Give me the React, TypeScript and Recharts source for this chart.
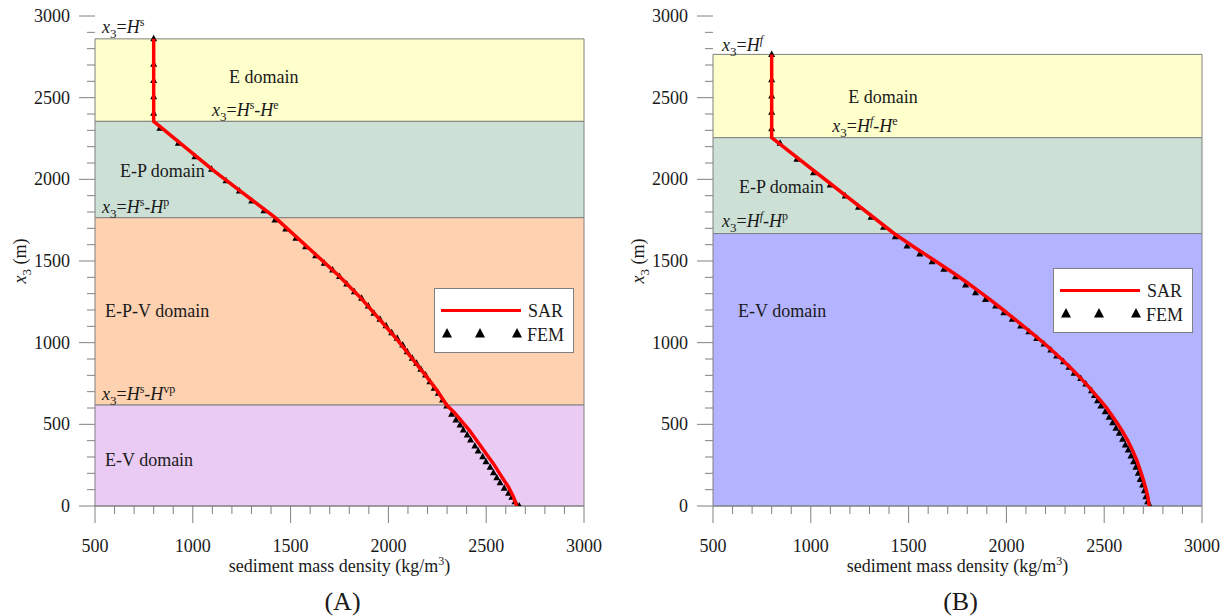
import React from 'react';
import { ComposedChart, Scatter, XAxis, YAxis, ReferenceArea, ReferenceDot, Legend } from 'recharts';

const FONT = '"Liberation Serif", "Times New Roman", Times, serif';
const TEXT = '#1a1a1a';
const GRID = '#808080';

// ---------- axis ticks ----------
const xTicks = [500, 600, 700, 800, 900, 1000, 1100, 1200, 1300, 1400, 1500, 1600, 1700, 1800, 1900, 2000, 2100, 2200, 2300, 2400, 2500, 2600, 2700, 2800, 2900, 3000];
const yTicks = [0, 100, 200, 300, 400, 500, 600, 700, 800, 900, 1000, 1100, 1200, 1300, 1400, 1500, 1600, 1700, 1800, 1900, 2000, 2100, 2200, 2300, 2400, 2500, 2600, 2700, 2800, 2900, 3000];

// ---------- panel A data ----------
const sarA_density = [800, 800, 1113, 1420, 1596, 1752, 1862, 1957, 2047, 2127, 2190, 2247, 2298, 2340, 2413, 2468, 2536, 2579, 2613, 2639, 2656];
const sarA_depth = [2860, 2355, 2047, 1767, 1575, 1404, 1270, 1139, 1015, 894, 800, 710, 618, 568, 465, 373, 261, 180, 118, 57, 0];

const femA_density = [800, 800, 800, 800, 800,
  832, 926, 1011, 1096, 1170, 1238, 1301, 1364, 1420, 1475, 1527, 1577, 1628, 1672, 1715, 1750,
  1787, 1826, 1863, 1897, 1926, 1957, 1988, 2017, 2045, 2073, 2096, 2122, 2144, 2166, 2190, 2212, 2234, 2255, 2277, 2298,
  2323, 2345, 2366, 2383, 2403, 2420, 2442, 2459, 2482, 2499, 2520, 2537, 2554, 2571, 2592, 2614, 2631, 2647, 2669];
const femA_depth = [2860, 2705, 2605, 2505, 2405,
  2312, 2221, 2139, 2061, 1992, 1929, 1867, 1808, 1751, 1696, 1639, 1588, 1532, 1486, 1445, 1405,
  1359, 1312, 1272, 1225, 1180, 1143, 1104, 1061, 1027, 986, 945, 904, 874, 837, 802, 761, 721, 690, 649, 612,
  561, 527, 496, 465, 435, 404, 367, 337, 302, 271, 237, 204, 173, 143, 108, 78, 53, 26, 0];

const domainA_names = ['E', 'E-P', 'E-P-V', 'E-V'];
const domainA_top = [2860, 2355, 1765, 618];
const domainA_bottom = [2355, 1765, 618, 0];
const domainA_colors = ['#ffffcc', '#cce0d6', '#fed1b0', '#eacbf3'];

// ---------- panel B data ----------
const sarB_density = [800, 800, 1424, 1535, 1629, 1731, 1797, 1862, 1920, 1984, 2036, 2090, 2149, 2203, 2245, 2287, 2342, 2388, 2428, 2464, 2485, 2513, 2536, 2567, 2592, 2619, 2645, 2666, 2684, 2700, 2714, 2724, 2730];
const sarB_depth = [2765, 2255, 1670, 1580, 1506, 1425, 1370, 1312, 1260, 1200, 1150, 1098, 1040, 986, 940, 894, 830, 772, 720, 670, 640, 599, 560, 507, 460, 404, 340, 282, 220, 160, 100, 50, 0];

const femB_density = [800, 800, 800, 800, 800,
  843, 929, 1014, 1099, 1176, 1244, 1308, 1372, 1432,
  1492, 1557, 1620, 1680, 1740, 1791, 1842, 1893, 1945, 1987, 2030, 2073, 2115, 2155, 2192, 2227, 2257, 2292, 2320, 2346, 2380, 2406, 2435, 2450,
  2466, 2483, 2505, 2525, 2543, 2560, 2577, 2594, 2608, 2623, 2637, 2650, 2662, 2674, 2684, 2696, 2705, 2713, 2722, 2734];
const femB_depth = [2765, 2610, 2510, 2410, 2310,
  2221, 2123, 2041, 1965, 1898, 1829, 1768, 1706, 1649,
  1592, 1543, 1496, 1449, 1404, 1353, 1306, 1265, 1224, 1183, 1143, 1102, 1067, 1026, 992, 955, 918, 883, 849, 812, 781, 747, 706, 676,
  645, 612, 577, 543, 510, 476, 445, 408, 373, 343, 306, 271, 237, 200, 163, 129, 94, 57, 26, 0];

const domainB_names = ['E', 'E-P', 'E-V'];
const domainB_top = [2765, 2255, 1668];
const domainB_bottom = [2255, 1668, 0];
const domainB_colors = ['#ffffcc', '#cce0d6', '#b3b3ff'];

// ---------- annotations (anchored in data coordinates) ----------
type Kind = 'i' | 'n' | 'sub' | 'sup' | 'supi';
type Seg = [string, Kind];

const eq = (sup: Seg[]): Seg[] => [['x', 'i'], ['3', 'sub'], ['=', 'n'], ['H', 'i'], ...sup];

const labelsA: { x: number; y: number; segs: Seg[] }[] = [
  { x: 536, y: 2893, segs: eq([['s', 'sup']]) },
  { x: 1185, y: 2588, segs: [['E domain', 'n']] },
  { x: 1098, y: 2385, segs: eq([['s', 'sup'], ['-', 'n'], ['H', 'i'], ['e', 'sup']]) },
  { x: 628, y: 2012, segs: [['E-P domain', 'n']] },
  { x: 536, y: 1796, segs: eq([['s', 'sup'], ['-', 'n'], ['H', 'i'], ['p', 'sup']]) },
  { x: 551, y: 1157, segs: [['E-P-V domain', 'n']] },
  { x: 536, y: 649, segs: eq([['s', 'sup'], ['-', 'n'], ['H', 'i'], ['vp', 'sup']]) },
  { x: 551, y: 245, segs: [['E-V domain', 'n']] },
];

const labelsB: { x: number; y: number; segs: Seg[] }[] = [
  { x: 546, y: 2788, segs: eq([['f', 'supi']]) },
  { x: 1192, y: 2469, segs: [['E domain', 'n']] },
  { x: 1110, y: 2292, segs: eq([['f', 'supi'], ['-', 'n'], ['H', 'i'], ['e', 'sup']]) },
  { x: 633, y: 1915, segs: [['E-P domain', 'n']] },
  { x: 546, y: 1710, segs: eq([['f', 'supi'], ['-', 'n'], ['H', 'i'], ['p', 'sup']]) },
  { x: 628, y: 1157, segs: [['E-V domain', 'n']] },
];

const zip = (xs: number[], ys: number[]) => xs.map((x, i) => ({ x, y: ys[i] }));

// ---------- drawing helpers ----------
const MathText = ({ x, y, segs }: { x: number; y: number; segs: Seg[] }) => {
  let shift = 0;
  const spans = segs.map(([t, k], i) => {
    let target = 0;
    let fs = 18;
    if (k === 'sub') { target = 5; fs = 13; }
    if (k === 'sup' || k === 'supi') { target = -7; fs = 12; }
    const style = k === 'i' || k === 'supi' ? 'italic' : 'normal';
    const dy = target - shift;
    shift = target;
    return (
      <tspan key={i} dy={dy} fontSize={fs} fontStyle={style}>{t}</tspan>
    );
  });
  return (
    <text x={x} y={y} fontFamily={FONT} fontSize={18} fill={TEXT}>{spans}</text>
  );
};

const YTick = (props: any) => {
  const { x, y, payload } = props;
  const v = payload.value;
  const major = v % 500 === 0;
  return (
    <g>
      <line x1={x - (major ? 16 : 8)} x2={x} y1={y} y2={y} stroke={GRID} strokeWidth={1} />
      {major && (
        <text x={x - 25} y={y + 6} textAnchor="end" fontFamily={FONT} fontSize={18} fill={TEXT}>{v}</text>
      )}
    </g>
  );
};

const XTick = (props: any) => {
  const { x, y, payload } = props;
  const v = payload.value;
  const major = v % 500 === 0;
  return (
    <g>
      <line x1={x} x2={x} y1={y} y2={y + (major ? 17 : 8)} stroke={GRID} strokeWidth={1} />
      {major && (
        <text x={x} y={y + 45.5} textAnchor="middle" fontFamily={FONT} fontSize={18} fill={TEXT}>{v}</text>
      )}
    </g>
  );
};

const Triangle = (props: any) => {
  const { cx, cy } = props;
  if (cx == null || cy == null) return <g />;
  return <polygon points={`${cx},${cy - 4} ${cx - 3.5},${cy + 2.5} ${cx + 3.5},${cy + 2.5}`} fill="#000" />;
};

const NoShape = () => <g />;

const LegendBox = () => (
  <svg width={140} height={66} style={{ display: 'block' }}>
    <rect x={0.5} y={0.5} width={139} height={64} fill="#fff" stroke={GRID} strokeWidth={1} />
    <line x1={7} x2={87} y1={22.5} y2={22.5} stroke="#ff0000" strokeWidth={3} />
    <text x={94} y={29} fontFamily={FONT} fontSize={18} fill={TEXT}>SAR</text>
    {[13, 46, 83].map((x) => (
      <polygon key={x} points={`${x},${40} ${x - 5},${49.5} ${x + 5},${49.5}`} fill="#000" />
    ))}
    <text x={93} y={53} fontFamily={FONT} fontSize={18} fill={TEXT}>FEM</text>
  </svg>
);

const XTitle = ({ viewBox, letter }: any) => {
  const vb = viewBox || { x: 95, y: 506, width: 489, height: 40 };
  const cx = vb.x + vb.width / 2;
  return (
    <g>
      <text x={cx} y={vb.y + 65.5} textAnchor="middle" fontFamily={FONT} fontSize={18} fill={TEXT}>
        <tspan>sediment mass density (kg/m</tspan>
        <tspan dy={-7} fontSize={12}>3</tspan>
        <tspan dy={7}>)</tspan>
      </text>
      <text x={cx + 3} y={vb.y + 104} textAnchor="middle" fontFamily={FONT} fontSize={26} fill={TEXT}>({letter})</text>
    </g>
  );
};

const YTitle = ({ viewBox }: any) => {
  const vb = viewBox || { x: 0, y: 16, width: 95, height: 490 };
  const bx = vb.x + 26;
  const cy = vb.y + vb.height / 2;
  return (
    <text transform={`translate(${bx},${cy}) rotate(-90)`} x={0} y={0} textAnchor="middle" fontFamily={FONT} fontSize={18} fill={TEXT}>
      <tspan fontStyle="italic">x</tspan>
      <tspan dy={5} fontSize={13}>3</tspan>
      <tspan dy={-5}> (m)</tspan>
    </text>
  );
};

type PanelProps = {
  width: number;
  sar: { x: number; y: number }[];
  fem: { x: number; y: number }[];
  tops: number[];
  bottoms: number[];
  colors: string[];
  names: string[];
  labels: { x: number; y: number; segs: Seg[] }[];
  legendLeft: number;
  legendTop: number;
  letter: string;
};

const Panel = ({ width, sar, fem, tops, bottoms, colors, names, labels, legendLeft, legendTop, letter }: PanelProps) => (
  <ComposedChart
    width={width}
    height={616}
    margin={{ top: 16, right: width - 95 - 489, bottom: 70, left: 0 }}
    style={{ fontFamily: FONT }}
  >
    <XAxis
      type="number"
      dataKey="x"
      domain={[500, 3000]}
      ticks={xTicks}
      interval={0}
      tick={<XTick />}
      tickSize={0}
      tickMargin={0}
      tickLine={false}
      axisLine={{ stroke: GRID }}
      height={40}
      allowDataOverflow
      label={{ content: (p: any) => <XTitle viewBox={p.viewBox} letter={letter} /> }}
    />
    <YAxis
      type="number"
      dataKey="y"
      domain={[0, 3000]}
      ticks={yTicks}
      interval={0}
      tick={<YTick />}
      tickSize={0}
      tickMargin={0}
      tickLine={false}
      axisLine={false}
      width={95}
      allowDataOverflow
      label={{ content: (p: any) => <YTitle viewBox={p.viewBox} /> }}
    />
    {names.map((n, i) => (
      <ReferenceArea
        key={n}
        x1={500}
        x2={3000}
        y1={bottoms[i]}
        y2={tops[i]}
        fill={colors[i]}
        fillOpacity={1}
        stroke={GRID}
        strokeWidth={1}
      />
    ))}
    {labels.map((l, i) => (
      <ReferenceDot
        key={`lab${i}`}
        x={l.x}
        y={l.y}
        r={0}
        shape={(p: any) => <MathText x={p.cx} y={p.cy} segs={l.segs} />}
      />
    ))}
    <Scatter name="FEM" data={fem} shape={<Triangle />} isAnimationActive={false} legendType="none" />
    <Scatter
      name="SAR"
      data={sar}
      shape={<NoShape />}
      line={{ stroke: '#ff0000', strokeWidth: 3.5 }}
      lineType="joint"
      isAnimationActive={false}
      legendType="none"
    />
    <Legend
      layout="horizontal"
      verticalAlign="middle"
      align="center"
      content={() => <LegendBox />}
      wrapperStyle={{ position: 'absolute', left: legendLeft, top: legendTop, width: 140, height: 66, bottom: 'auto', right: 'auto' }}
    />
  </ComposedChart>
);

export default function App() {
  return (
    <div style={{ position: 'absolute', left: 0, top: 0, width: 1229, height: 616, background: '#ffffff', overflow: 'hidden' }}>
      <div style={{ position: 'absolute', left: 0, top: 0 }}>
        <Panel
          width={614}
          sar={zip(sarA_density, sarA_depth)}
          fem={zip(femA_density, femA_depth)}
          tops={domainA_top}
          bottoms={domainA_bottom}
          colors={domainA_colors}
          names={domainA_names}
          labels={labelsA}
          legendLeft={434}
          legendTop={288}
          letter="A"
        />
      </div>
      <div style={{ position: 'absolute', left: 618, top: 0 }}>
        <Panel
          width={611}
          sar={zip(sarB_density, sarB_depth)}
          fem={zip(femB_density, femB_depth)}
          tops={domainB_top}
          bottoms={domainB_bottom}
          colors={domainB_colors}
          names={domainB_names}
          labels={labelsB}
          legendLeft={435}
          legendTop={268}
          letter="B"
        />
      </div>
    </div>
  );
}
